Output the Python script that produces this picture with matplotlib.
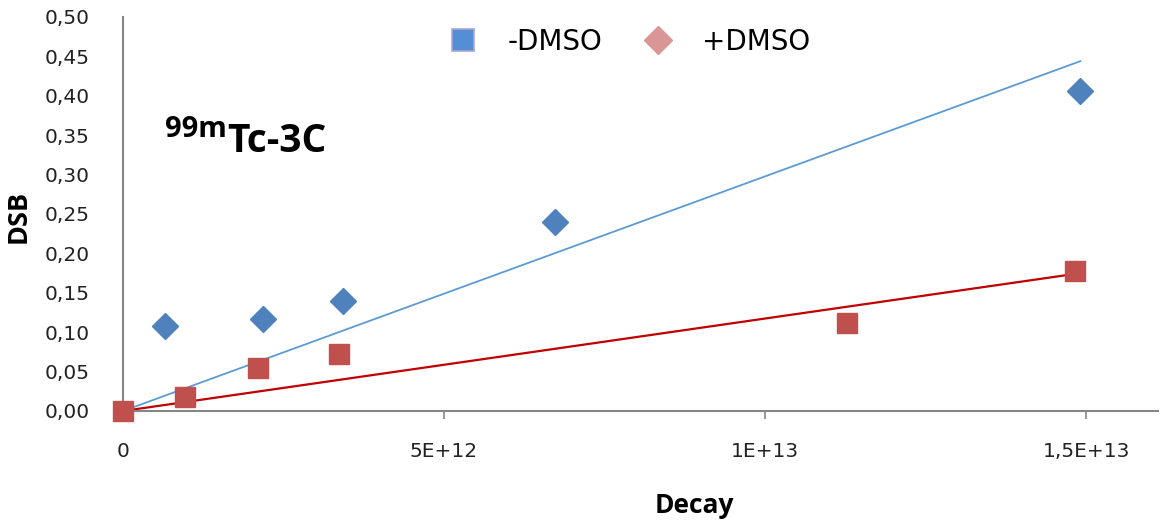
import numpy as np
import matplotlib.pyplot as plt
from matplotlib.lines import Line2D
from matplotlib.ticker import FuncFormatter, MultipleLocator

# decay counts and double strand breaks
decay_minus = [0.654e12, 2.176e12, 3.43e12, 6.73e12, 14.91e12]
dsb_minus = [0.1082, 0.1164, 0.1400, 0.2398, 0.406]

decay_plus = [0, 0.966e12, 2.098e12, 3.364e12, 11.28e12, 14.83e12]
dsb_plus = [0, 0.0174, 0.0542, 0.0723, 0.1117, 0.1777]

x_ticks = [0, 5e12, 1e13, 1.5e13]
x_tick_labels = ['0', '5E+12', '1E+13', '1,5E+13']

blue = '#4F81BD'
red = '#C0504D'
axis_grey = '#868686'


def origin_fit(x, y):
    # linear trend forced through zero
    x = np.asarray(x)
    y = np.asarray(y)
    return (x * y).sum() / (x * x).sum()


fig = plt.figure(figsize=(11.61, 5.20), dpi=100)
ax = fig.add_axes([123 / 1161, 109 / 520, 1035 / 1161, 394 / 520])

# trend lines
k_minus = origin_fit(decay_minus, dsb_minus)
k_plus = origin_fit(decay_plus, dsb_plus)
xm = np.array([0, max(decay_minus)])
xp = np.array([0, max(decay_plus)])
ax.plot(xm, k_minus * xm, color='#5B9BD5', lw=1.3, zorder=2)
ax.plot(xp, k_plus * xp, color='#C00000', lw=1.6, zorder=2)

# data points
ax.plot(decay_minus, dsb_minus, 'D', color=blue, ms=13, mec=blue, zorder=3, clip_on=False)
ax.plot(decay_plus, dsb_plus, 's', color=red, ms=14, mec=red, zorder=4, clip_on=False)

ax.set_xlim(0, 1.612e13)
ax.set_ylim(0, 0.5)
ax.set_xticks(x_ticks)
ax.set_xticklabels(x_tick_labels)
ax.yaxis.set_major_locator(MultipleLocator(0.05))
ax.yaxis.set_major_formatter(FuncFormatter(lambda v, p: f'{v:.2f}'.replace('.', ',')))

for s in ['top', 'right']:
    ax.spines[s].set_visible(False)
for s in ['left', 'bottom']:
    ax.spines[s].set_color(axis_grey)
    ax.spines[s].set_linewidth(1.5)

ax.tick_params(axis='x', direction='out', length=6, width=1.2, color=axis_grey,
               pad=16, labelsize=14.5, labelcolor='#222222')
ax.tick_params(axis='y', length=0, pad=24, labelsize=14.5, labelcolor='#222222')

ax.set_xlabel('Decay', fontfamily='Open Sans', fontweight='bold', fontsize=19)
ax.set_ylabel('DSB', fontfamily='Open Sans', fontweight='bold', fontsize=19.5)
ax.xaxis.set_label_coords(0.552, -0.205)
ax.yaxis.set_label_coords(-0.088, 0.495)

# compound label
fig.text(227 / 1161, (520 - 152) / 520, 'Tc-3C', fontfamily='Open Sans',
         fontweight='bold', fontsize=28, ha='left', va='baseline')
fig.text(227 / 1161, (520 - 137) / 520, '99m', fontfamily='Open Sans',
         fontweight='bold', fontsize=21, ha='right', va='baseline')

handles = [
    Line2D([], [], ls='none', marker='s', ms=16, color='#558ED5', mec='#A9A6D8', mew=1.2),
    Line2D([], [], ls='none', marker='D', ms=14, color='#D99694', mec='#D99694'),
]
fig.legend(handles, ['-DMSO', '+DMSO'], loc='center', ncol=2, frameon=False,
           bbox_to_anchor=(630 / 1161, (520 - 42) / 520), fontsize=20,
           handlelength=1.0, handletextpad=1.1, columnspacing=1.5)

fig.savefig('out.png', dpi=100)
